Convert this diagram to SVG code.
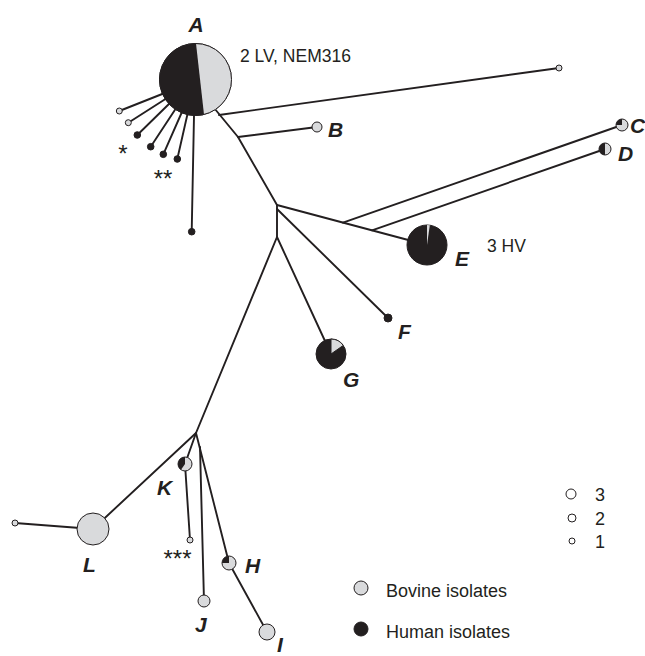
<svg xmlns="http://www.w3.org/2000/svg" width="645" height="656" viewBox="0 0 645 656">
<style>
.ln{fill:none;stroke:#231f20;stroke-width:1.9;stroke-linejoin:round;stroke-linecap:round}
.lt{fill:#d9dadc;stroke:#231f20;stroke-width:1}
.dk{fill:#231f20;stroke:#231f20;stroke-width:1}
.wh{fill:#ffffff;stroke:#231f20;stroke-width:1}
.bk{fill:#231f20;stroke:none}
.lab{font-family:"Liberation Sans",Arial,sans-serif;font-weight:bold;font-style:italic;font-size:21px;fill:#231f20}
.txt{font-family:"Liberation Sans",Arial,sans-serif;font-size:17.5px;fill:#231f20}
.leg{font-family:"Liberation Sans",Arial,sans-serif;font-size:18px;fill:#231f20}
.ast{font-family:"Liberation Sans",Arial,sans-serif;font-size:24px;fill:#231f20;text-anchor:middle}
</style>
<rect width="645" height="656" fill="#ffffff"/>
<g id="connectors">
<polyline class="ln" points="210,103 238,137 277,205 277,237 196,433"/>
<line class="ln" x1="219" y1="115" x2="559" y2="68"/>
<line class="ln" x1="238" y1="137" x2="317" y2="127"/>
<line class="ln" x1="277" y1="205" x2="427" y2="245"/>
<line class="ln" x1="343" y1="222.6" x2="622" y2="125"/>
<line class="ln" x1="372" y1="230.3" x2="605" y2="149"/>
<line class="ln" x1="277" y1="209" x2="388" y2="318"/>
<line class="ln" x1="277" y1="237" x2="331" y2="354"/>
<line class="ln" x1="196" y1="433" x2="93" y2="529"/>
<line class="ln" x1="93" y1="529" x2="15" y2="523"/>
<line class="ln" x1="196" y1="433" x2="185" y2="464"/>
<line class="ln" x1="185" y1="464" x2="190" y2="540"/>
<line class="ln" x1="200" y1="447" x2="204" y2="601"/>
<line class="ln" x1="196" y1="433" x2="229" y2="563"/>
<line class="ln" x1="229" y1="563" x2="267" y2="632"/>
<line class="ln" x1="166" y1="92.5" x2="119.3" y2="111"/>
<line class="ln" x1="169" y1="96.7" x2="128.3" y2="122.7"/>
<line class="ln" x1="172" y1="101" x2="137.3" y2="135"/>
<line class="ln" x1="177.5" y1="106" x2="150.7" y2="146.7"/>
<line class="ln" x1="183.5" y1="108.5" x2="163.3" y2="154.3"/>
<line class="ln" x1="188.3" y1="110.5" x2="177.3" y2="159"/>
<line class="ln" x1="194.1" y1="111" x2="191.7" y2="231.7"/>
</g>
<g id="node-A">
<circle class="dk" cx="195.5" cy="79.5" r="36"/>
<path d="M196,43.5 A36,36 0 0,1 204,114.6 Z" fill="#d9dadc"/>
<circle cx="195.5" cy="79.5" r="36" fill="none" stroke="#231f20" stroke-width="1"/>
<text class="lab" x="196" y="32" text-anchor="middle">A</text>
<text class="txt" x="240" y="62">2 LV, NEM316</text>
</g>
<g id="node-A-leaves">
<circle class="lt" cx="119.3" cy="111" r="3"/>
<circle class="lt" cx="128.3" cy="122.7" r="3"/>
<circle class="dk" cx="137.3" cy="135" r="3.3"/>
<circle class="dk" cx="150.7" cy="146.7" r="3.3"/>
<circle class="dk" cx="163.3" cy="154.3" r="3.3"/>
<circle class="dk" cx="177.3" cy="159" r="3.3"/>
<circle class="dk" cx="191.7" cy="231.7" r="3.3"/>
<text class="ast" x="123" y="162">*</text>
<text class="ast" x="163" y="186.5">**</text>
</g>
<g id="node-top"><circle class="lt" cx="559" cy="68" r="3"/></g>
<g id="node-B">
<circle class="lt" cx="317" cy="127" r="5"/>
<text class="lab" x="328" y="137">B</text>
</g>
<g id="node-C">
<circle class="lt" cx="622" cy="125" r="6"/>
<path class="bk" d="M622,125 L622,119 A6,6 0 0,0 616,125 Z"/>
<text class="lab" x="630" y="133">C</text>
</g>
<g id="node-D">
<circle class="lt" cx="605" cy="149" r="6"/>
<path class="bk" d="M605,143 A6,6 0 0,0 605,155 Z"/>
<text class="lab" x="618" y="161">D</text>
</g>
<g id="node-E">
<circle class="dk" cx="427" cy="245" r="20"/>
<path d="M427,245 L427,225 A20,20 0 0,1 429.8,225.2 Z" fill="#d9dadc"/>
<text class="lab" x="455" y="266">E</text>
<text class="txt" x="487" y="252">3 HV</text>
</g>
<g id="node-F">
<circle class="dk" cx="388" cy="318" r="4"/>
<text class="lab" x="398" y="339">F</text>
</g>
<g id="node-G">
<circle class="dk" cx="331" cy="354" r="15"/>
<path d="M331,354 L331,339 A15,15 0 0,1 343.3,345.4 Z" fill="#d9dadc" stroke="#231f20" stroke-width="1"/>
<text class="lab" x="343" y="387">G</text>
</g>
<g id="node-K">
<circle class="lt" cx="185" cy="464" r="7"/>
<path class="bk" d="M185,464 L185,457 A7,7 0 0,0 181,469.7 Z"/>
<text class="lab" x="157" y="495">K</text>
</g>
<g id="node-K-leaf">
<circle class="lt" cx="190" cy="540" r="3"/>
<text class="ast" x="177.5" y="567">***</text>
</g>
<g id="node-L">
<circle class="lt" cx="93" cy="529" r="16"/>
<text class="lab" x="83" y="572">L</text>
</g>
<g id="node-L-leaf"><circle class="lt" cx="15" cy="523" r="3"/></g>
<g id="node-H">
<circle class="lt" cx="229" cy="563" r="7"/>
<path class="bk" d="M229,563 L229,556 A7,7 0 0,0 222,563 Z"/>
<text class="lab" x="245" y="573">H</text>
</g>
<g id="node-J">
<circle class="lt" cx="204" cy="601" r="6"/>
<text class="lab" x="195" y="632">J</text>
</g>
<g id="node-I">
<circle class="lt" cx="267" cy="632" r="8"/>
<text class="lab" x="277" y="652">I</text>
</g>
<g id="legend">
<circle class="wh" cx="571" cy="494" r="5"/>
<circle class="wh" cx="572" cy="518" r="4"/>
<circle class="wh" cx="572" cy="541" r="3"/>
<text class="leg" x="595" y="501">3</text>
<text class="leg" x="595" y="525">2</text>
<text class="leg" x="595" y="548">1</text>
<circle class="lt" cx="361" cy="588" r="7"/>
<text class="leg" x="386" y="597">Bovine isolates</text>
<circle class="dk" cx="361" cy="629" r="7"/>
<text class="leg" x="386" y="638">Human isolates</text>
</g>
</svg>
